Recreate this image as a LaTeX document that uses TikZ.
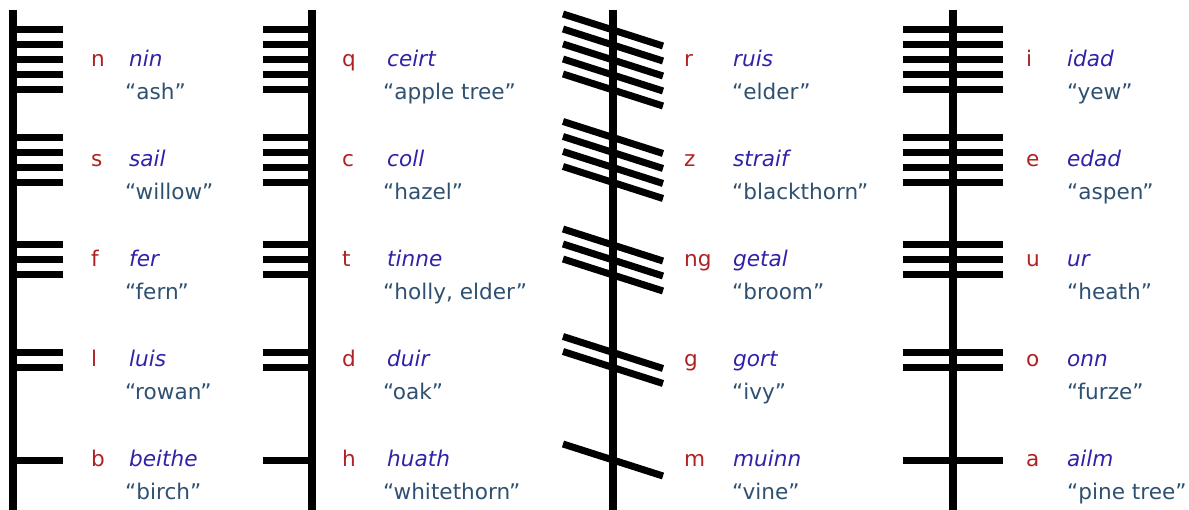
\documentclass[tikz,border=0pt]{standalone}
\usepackage{fontspec}
\setmainfont{DejaVu Sans}
\definecolor{ogred}{HTML}{B02222}
\definecolor{ogblue}{HTML}{3022A8}
\definecolor{ogslate}{HTML}{2F5070}
\begin{document}
\begin{tikzpicture}[x=1pt,y=-1pt,
  stemline/.style={line width=7.5pt,black},
  notch/.style={line width=7pt,black},
  letter/.style={anchor=base west,inner sep=0pt,text=ogred,font=\fontsize{21.6}{25}\selectfont},
  treename/.style={anchor=base west,inner sep=0pt,text=ogblue,font=\fontsize{21.6}{25}\selectfont\itshape},
  gloss/.style={anchor=base west,inner sep=0pt,text=ogslate,font=\fontsize{21.6}{25}\selectfont}]
\useasboundingbox (0,0) rectangle (1189,510);

% column 1
\draw[stemline] (13,10) -- (13,512);
\foreach \L/\N/\G/\n [count=\i] in {n/nin/ash/5,s/sail/willow/4,f/fer/fern/3,l/luis/rowan/2,b/beithe/birch/1}{
  \pgfmathsetmacro\yc{60+100*(\i-1)}
  \foreach \k in {1,...,\n}{
    \pgfmathsetmacro\yy{\yc+(\k-(\n+1)/2)*15}
    \draw[notch] (13,\yy) -- (63,\yy);
  }
  \node[letter] (aL\i) at (91,\yc+6.5) {\L};
  \node[treename] (aN\i) at (129,\yc+6.5) {\N};
  \node[gloss] (aG\i) at (125,\yc+39.5) {“\G”};
}

% column 2
\draw[stemline] (312,10) -- (312,512);
\foreach \L/\N/\G/\n [count=\i] in {q/ceirt/apple tree/5,c/coll/hazel/4,t/tinne/{holly, elder}/3,d/duir/oak/2,h/huath/whitethorn/1}{
  \pgfmathsetmacro\yc{60+100*(\i-1)}
  \foreach \k in {1,...,\n}{
    \pgfmathsetmacro\yy{\yc+(\k-(\n+1)/2)*15}
    \draw[notch] (263,\yy) -- (312,\yy);
  }
  \node[letter] (bL\i) at (342,\yc+6.5) {\L};
  \node[treename] (bN\i) at (387,\yc+6.5) {\N};
  \node[gloss] (bG\i) at (383,\yc+39.5) {“\G”};
}

% column 3
\draw[stemline] (613,10) -- (613,512);
\foreach \L/\N/\G/\n [count=\i] in {r/ruis/elder/5,z/straif/blackthorn/4,ng/getal/broom/3,g/gort/ivy/2,m/muinn/vine/1}{
  \pgfmathsetmacro\yc{60+100*(\i-1)}
  \foreach \k in {1,...,\n}{
    \pgfmathsetmacro\yy{\yc+(\k-(\n+1)/2)*15}
    \draw[notch] (563,\yy-16) -- (663,\yy+16);
  }
  \node[letter] (cL\i) at (684,\yc+6.5) {\L};
  \node[treename] (cN\i) at (733,\yc+6.5) {\N};
  \node[gloss] (cG\i) at (732,\yc+39.5) {“\G”};
}

% column 4
\draw[stemline] (953,10) -- (953,512);
\foreach \L/\N/\G/\n [count=\i] in {i/idad/yew/5,e/edad/aspen/4,u/ur/heath/3,o/onn/furze/2,a/ailm/pine tree/1}{
  \pgfmathsetmacro\yc{60+100*(\i-1)}
  \foreach \k in {1,...,\n}{
    \pgfmathsetmacro\yy{\yc+(\k-(\n+1)/2)*15}
    \draw[notch] (903,\yy) -- (1003,\yy);
  }
  \node[letter] (dL\i) at (1026,\yc+6.5) {\L};
  \node[treename] (dN\i) at (1067,\yc+6.5) {\N};
  \node[gloss] (dG\i) at (1067,\yc+39.5) {“\G”};
}
\end{tikzpicture}
\end{document}
